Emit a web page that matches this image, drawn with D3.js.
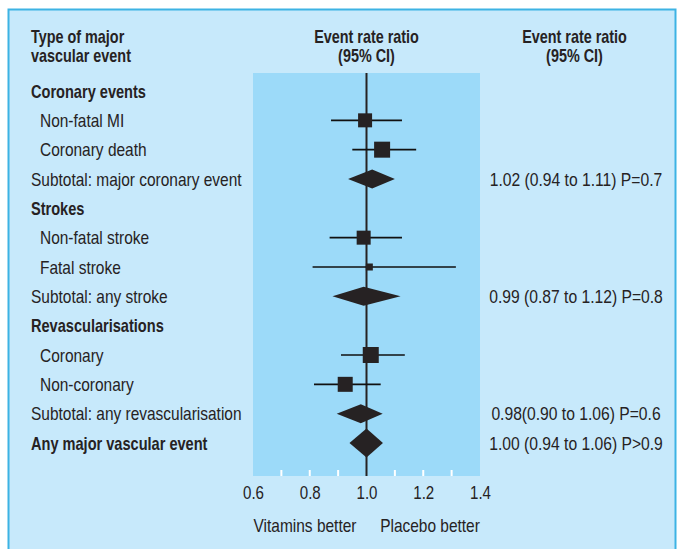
<!DOCTYPE html>
<html>
<head>
<meta charset="utf-8">
<script src="https://cdn.jsdelivr.net/npm/d3@7"></script>
<style>
  html, body { margin: 0; padding: 0; background: #ffffff; }
  svg { display: block; }
  text { font-family: "Liberation Sans Narrow", "Arial Narrow", "Liberation Sans", Arial, sans-serif; fill: #262223; }
</style>
</head>
<body>
<svg id="chart" width="679" height="549"></svg>
<script>
// ---- data ----
const labels = [
  "Coronary events", "Non-fatal MI", "Coronary death", "Subtotal: major coronary event",
  "Strokes", "Non-fatal stroke", "Fatal stroke", "Subtotal: any stroke",
  "Revascularisations", "Coronary", "Non-coronary", "Subtotal: any revascularisation",
  "Any major vascular event"
];
const rowTypes = [
  "group", "item", "item", "subtotal",
  "group", "item", "item", "subtotal",
  "group", "item", "item", "subtotal",
  "overall"
];
const estimates = [null, 0.995, 1.055, 1.02, null, 0.99, 1.01, 0.99, null, 1.015, 0.925, 0.98, 1.00];
const lowerCI   = [null, 0.875, 0.95, 0.935, null, 0.87, 0.81, 0.88, null, 0.91, 0.815, 0.895, 0.94];
const upperCI   = [null, 1.125, 1.175, 1.10, null, 1.125, 1.315, 1.12, null, 1.135, 1.05, 1.057, 1.058];
const weights   = [null, 196, 256, null, null, 196, 49, null, null, 256, 225, null, null];
const resultTexts = [
  "", "", "", "1.02 (0.94 to 1.11) P=0.7",
  "", "", "", "0.99 (0.87 to 1.12) P=0.8",
  "", "", "", "0.98(0.90 to 1.06) P=0.6",
  "1.00 (0.94 to 1.06) P>0.9"
];
const tickValues = [0.6, 0.8, 1.0, 1.2, 1.4];
const minorTicks = [0.7, 0.8, 0.9, 1.1, 1.2, 1.3];
const headerLeft = ["Type of major", "vascular event"];
const headerMid = ["Event rate ratio", "(95% CI)"];
const headerRight = ["Event rate ratio", "(95% CI)"];
const favourLabels = ["Vitamins better", "Placebo better"];

// ---- layout ----
const svg = d3.select("#chart");
const ink = "#262223";
const x = d3.scaleLinear().domain([0.6, 1.4]).range([253, 480]);
const y = d3.scalePoint().domain(d3.range(labels.length)).range([91, 443]);
const size = d3.scaleSqrt().domain([0, 256]).range([0, 16]);
const bandTop = 73, bandBottom = 476;

// condense glyphs horizontally (the original uses a condensed face)
function condense(sel, f) {
  sel.each(function () {
    const t = d3.select(this);
    const tx = +t.attr("x") || 0, ty = +t.attr("y") || 0;
    t.attr("x", 0).attr("y", 0).attr("transform", `translate(${tx},${ty}) scale(${f},1)`);
  });
}

// panel
svg.append("rect").attr("x", 8.5).attr("y", 9.5).attr("width", 667).attr("height", 560)
  .attr("fill", "#c7e9fb").attr("stroke", "#3db3e4").attr("stroke-width", 2);

// plot band
svg.append("rect").attr("x", x(0.6)).attr("y", bandTop)
  .attr("width", x(1.4) - x(0.6)).attr("height", bandBottom - bandTop)
  .attr("fill", "#9cdaf9");

// white minor ticks
svg.append("g").selectAll("line").data(minorTicks).join("line")
  .attr("x1", d => x(d)).attr("x2", d => x(d))
  .attr("y1", bandBottom - 6).attr("y2", bandBottom)
  .attr("stroke", "#ffffff").attr("stroke-width", 2);

// reference line
svg.append("line").attr("x1", x(1)).attr("x2", x(1))
  .attr("y1", bandTop).attr("y2", bandBottom)
  .attr("stroke", ink).attr("stroke-width", 2);

// axis
const axis = d3.axisBottom(x).tickValues(tickValues).tickFormat(d3.format(".1f")).tickSize(0).tickPadding(0);
const ag = svg.append("g").attr("transform", `translate(0, ${bandBottom})`).call(axis);
ag.select(".domain").remove();
ag.selectAll("text").attr("y", 22.5).attr("dy", null)
  .style("font-size", "18px").attr("fill", ink)
  .call(condense, 0.84);
ag.attr("font-family", null);

// headers: one text element per header, two lines as tspans
function header(lines, hx, anchor) {
  const t = svg.append("text")
    .attr("x", hx).attr("y", 42.7)
    .attr("text-anchor", anchor)
    .style("font-weight", "bold").style("font-size", "18px");
  t.selectAll("tspan").data(lines).join("tspan")
    .attr("x", 0).attr("dy", (d, i) => i === 0 ? 0 : 19)
    .text(d => d);
  t.call(condense, 0.80);
}
header(headerLeft, 31, "start");
header(headerMid, x(1), "middle");
header(headerRight, 574.5, "middle");

// row labels
svg.append("g").selectAll("text").data(labels).join("text")
  .attr("x", (d, i) => rowTypes[i] === "item" ? 40 : 31)
  .attr("y", (d, i) => y(i) + 6.5)
  .style("font-size", "18px")
  .style("font-weight", (d, i) => (rowTypes[i] === "group" || rowTypes[i] === "overall") ? "bold" : "normal")
  .text(d => d)
  .each(function (d, i) {
    d3.select(this).call(condense, (rowTypes[i] === "group" || rowTypes[i] === "overall") ? 0.81 : 0.86);
  });

// result texts
svg.append("g").selectAll("text").data(resultTexts.map((t, i) => ({ t, i })).filter(d => d.t))
  .join("text")
  .attr("x", 576).attr("text-anchor", "middle")
  .attr("y", d => y(d.i) + 6.5)
  .style("font-size", "18px")
  .text(d => d.t)
  .call(condense, 0.87);

// CI lines for items
const items = d3.range(labels.length).filter(i => rowTypes[i] === "item");
svg.append("g").selectAll("line").data(items).join("line")
  .attr("x1", i => x(lowerCI[i])).attr("x2", i => x(upperCI[i]))
  .attr("y1", i => y(i)).attr("y2", i => y(i))
  .attr("stroke", "#111111").attr("stroke-width", 1.6);

// squares
svg.append("g").selectAll("rect").data(items).join("rect")
  .attr("x", i => x(estimates[i]) - size(weights[i]) / 2)
  .attr("y", i => y(i) - size(weights[i]) / 2)
  .attr("width", i => size(weights[i])).attr("height", i => size(weights[i]))
  .attr("fill", ink);

// diamonds
const diamonds = d3.range(labels.length).filter(i => rowTypes[i] === "subtotal" || rowTypes[i] === "overall");
svg.append("g").selectAll("path").data(diamonds).join("path")
  .attr("d", i => {
    const h = rowTypes[i] === "overall" ? 14.5 : 9.5;
    const cy = y(i);
    return `M${x(lowerCI[i])},${cy}L${x(estimates[i])},${cy - h}L${x(upperCI[i])},${cy}L${x(estimates[i])},${cy + h}Z`;
  })
  .attr("fill", ink);

// favour labels
svg.append("g").selectAll("text").data(favourLabels).join("text")
  .attr("x", (d, i) => i === 0 ? 305 : 430).attr("y", 531.5)
  .attr("text-anchor", "middle").style("font-size", "18px")
  .text(d => d)
  .call(condense, 0.86);
</script>
</body>
</html>
